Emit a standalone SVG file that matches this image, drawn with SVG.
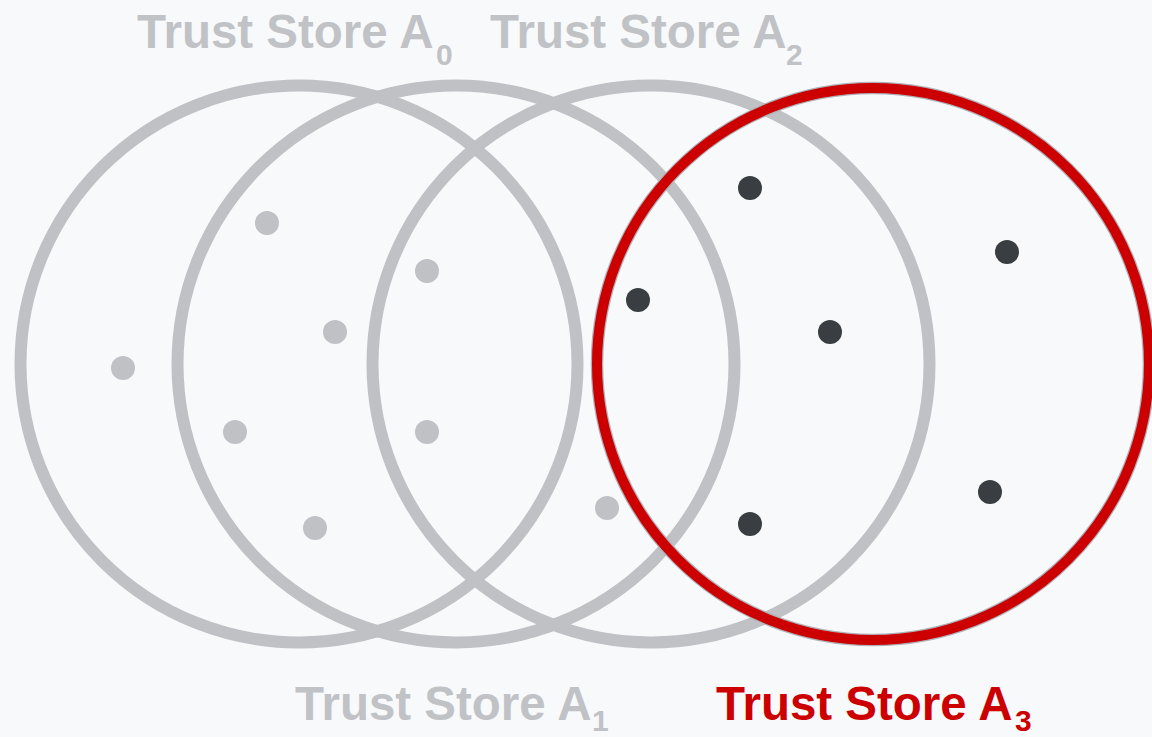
<svg xmlns="http://www.w3.org/2000/svg" width="1152" height="737" viewBox="0 0 1152 737">
<style>
.ring{fill:none;stroke:#bfc1c5;stroke-width:12}
.red{fill:none;stroke:#cc0000;stroke-width:10}
.halo{fill:none;stroke:#aeb2b8;stroke-width:12.5}
.g{fill:#bfc1c5}
.d{fill:#3a3d41}
.lbl{font-family:"Liberation Sans",Arial,sans-serif;font-weight:bold;font-size:47.5px}
.sub{font-size:30px}
.gl{fill:#c0c2c6}
.rl{fill:#cc0000}
</style>
<rect width="1152" height="737" fill="#f8f9fb"/>
<g id="store-a0"><circle class="ring" cx="299" cy="364" r="278.5"/></g>
<g id="store-a1"><circle class="ring" cx="456" cy="364" r="278.5"/></g>
<g id="store-a2"><circle class="ring" cx="651" cy="364" r="278.5"/></g>
<g id="store-a3"><circle class="halo" cx="873" cy="364" r="276"/><circle class="red" cx="873" cy="364" r="276"/></g>
<g id="dots-gray">
<circle class="g" cx="267" cy="223" r="12"/>
<circle class="g" cx="427" cy="271" r="12"/>
<circle class="g" cx="335" cy="332" r="12"/>
<circle class="g" cx="123" cy="368" r="12"/>
<circle class="g" cx="235" cy="432" r="12"/>
<circle class="g" cx="427" cy="432" r="12"/>
<circle class="g" cx="315" cy="528" r="12"/>
<circle class="g" cx="607" cy="508" r="12"/>
</g>
<g id="dots-dark">
<circle class="d" cx="750" cy="188" r="12"/>
<circle class="d" cx="1007" cy="252" r="12"/>
<circle class="d" cx="638" cy="300" r="12"/>
<circle class="d" cx="830" cy="332" r="12"/>
<circle class="d" cx="990" cy="492" r="12"/>
<circle class="d" cx="750" cy="524" r="12"/>
</g>
<g id="labels">
<text class="lbl gl" x="137" y="48">Trust Store A<tspan class="sub" x="436" y="65">0</tspan></text>
<text class="lbl gl" x="490" y="48">Trust Store A<tspan class="sub" x="786" y="65">2</tspan></text>
<text class="lbl gl" x="295" y="720">Trust Store A<tspan class="sub" x="592" y="731">1</tspan></text>
<text class="lbl rl" x="716" y="720">Trust Store A<tspan class="sub" x="1015" y="731">3</tspan></text>
</g>
</svg>
